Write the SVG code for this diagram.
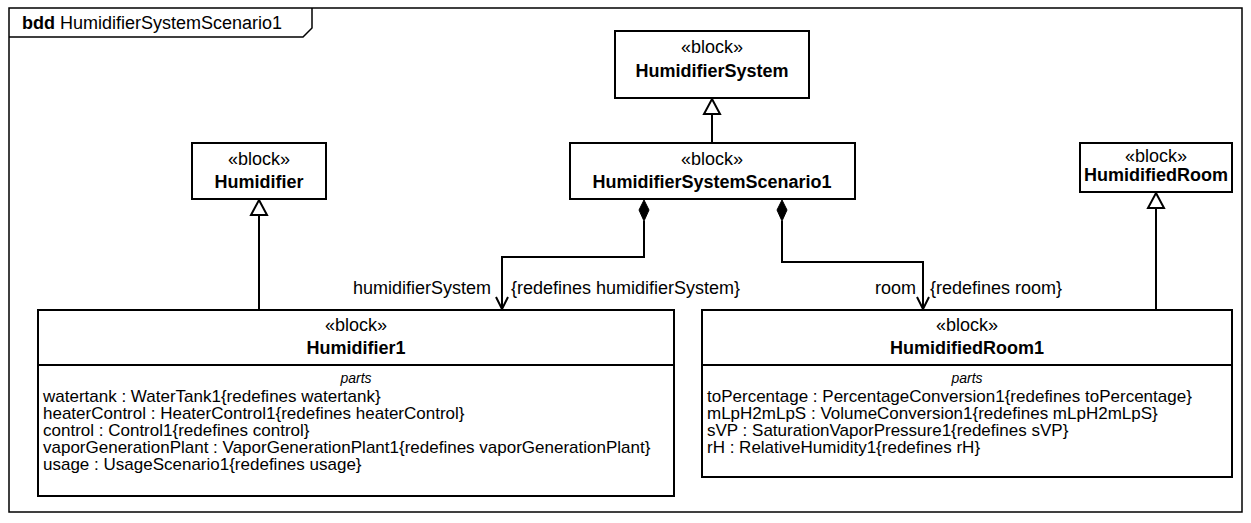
<svg xmlns="http://www.w3.org/2000/svg" width="1251" height="523" viewBox="0 0 1251 523">
<style>
text{font-family:"Liberation Sans",Arial,sans-serif;fill:#000}
.st{font-size:18px;text-anchor:middle}
.nm{font-size:18px;font-weight:bold;text-anchor:middle}
.pt{font-size:14px;font-style:italic;text-anchor:middle}
.pr{font-size:17px}
.lb{font-size:18px}
.box{fill:#fff;stroke:#000;stroke-width:2}
.ln{fill:none;stroke:#000;stroke-width:2}
.tri{fill:#fff;stroke:#000;stroke-width:2}
.dia{fill:#000;stroke:#000;stroke-width:1}
</style>
<g id="frame">
<rect x="9" y="8" width="1233" height="504" fill="#fff" stroke="#000" stroke-width="1.5"/>
<path d="M9 37 L303 37 L312 28 L312 8" fill="none" stroke="#000" stroke-width="1.5"/>
<text x="22" y="29" font-size="18"><tspan font-weight="bold">bdd</tspan> HumidifierSystemScenario1</text>
</g>
<g id="connectors">
<line class="ln" x1="259" y1="310" x2="259" y2="215"/>
<path class="tri" d="M259 200 L267 215 L251 215 Z"/>
<line class="ln" x1="1156" y1="310" x2="1156" y2="208"/>
<path class="tri" d="M1156 193 L1164 208 L1148 208 Z"/>
<line class="ln" x1="712" y1="143" x2="712" y2="114"/>
<path class="tri" d="M712 99 L720 114 L704 114 Z"/>
<path class="ln" d="M644 221 L644 257 L502 257 L502 309"/>
<path class="dia" d="M644 200 L649 210 L644 221 L639 210 Z"/>
<path class="ln" d="M496 297 L502 309 L508 297"/>
<path class="ln" d="M782 221 L782 262 L923 262 L923 309"/>
<path class="dia" d="M782 200 L787 210 L782 221 L777 210 Z"/>
<path class="ln" d="M917 297 L923 309 L929 297"/>
<text class="lb" x="491" y="294" text-anchor="end">humidifierSystem</text>
<text class="lb" x="511" y="294">{redefines humidifierSystem}</text>
<text class="lb" x="916" y="294" text-anchor="end">room</text>
<text class="lb" x="930" y="294">{redefines room}</text>
</g>
<g id="HumidifierSystem">
<rect class="box" x="615" y="31" width="194" height="67"/>
<text class="st" x="712" y="53">«block»</text>
<text class="nm" x="712" y="77">HumidifierSystem</text>
</g>
<g id="HumidifierSystemScenario1">
<rect class="box" x="570" y="143" width="285" height="56"/>
<text class="st" x="712" y="165">«block»</text>
<text class="nm" x="712" y="188">HumidifierSystemScenario1</text>
</g>
<g id="Humidifier">
<rect class="box" x="192" y="143" width="134" height="56"/>
<text class="st" x="259" y="165">«block»</text>
<text class="nm" x="259" y="188">Humidifier</text>
</g>
<g id="HumidifiedRoom">
<rect class="box" x="1080" y="143" width="152" height="49"/>
<text class="st" x="1156" y="162">«block»</text>
<text class="nm" x="1156" y="181">HumidifiedRoom</text>
</g>
<g id="Humidifier1">
<rect class="box" x="38" y="310" width="636" height="186"/>
<line class="ln" x1="38" y1="365" x2="674" y2="365"/>
<text class="st" x="356" y="331">«block»</text>
<text class="nm" x="356" y="354">Humidifier1</text>
<text class="pt" x="356" y="383">parts</text>
<text class="pr" x="43" y="402">watertank : WaterTank1{redefines watertank}</text>
<text class="pr" x="43" y="419">heaterControl : HeaterControl1{redefines heaterControl}</text>
<text class="pr" x="43" y="436">control : Control1{redefines control}</text>
<text class="pr" x="43" y="453">vaporGenerationPlant : VaporGenerationPlant1{redefines vaporGenerationPlant}</text>
<text class="pr" x="43" y="470">usage : UsageScenario1{redefines usage}</text>
</g>
<g id="HumidifiedRoom1">
<rect class="box" x="702" y="310" width="530" height="167"/>
<line class="ln" x1="702" y1="365" x2="1232" y2="365"/>
<text class="st" x="967" y="331">«block»</text>
<text class="nm" x="967" y="354">HumidifiedRoom1</text>
<text class="pt" x="967" y="383">parts</text>
<text class="pr" x="707" y="402">toPercentage : PercentageConversion1{redefines toPercentage}</text>
<text class="pr" x="707" y="419">mLpH2mLpS : VolumeConversion1{redefines mLpH2mLpS}</text>
<text class="pr" x="707" y="436">sVP : SaturationVaporPressure1{redefines sVP}</text>
<text class="pr" x="707" y="453">rH : RelativeHumidity1{redefines rH}</text>
</g>
</svg>
